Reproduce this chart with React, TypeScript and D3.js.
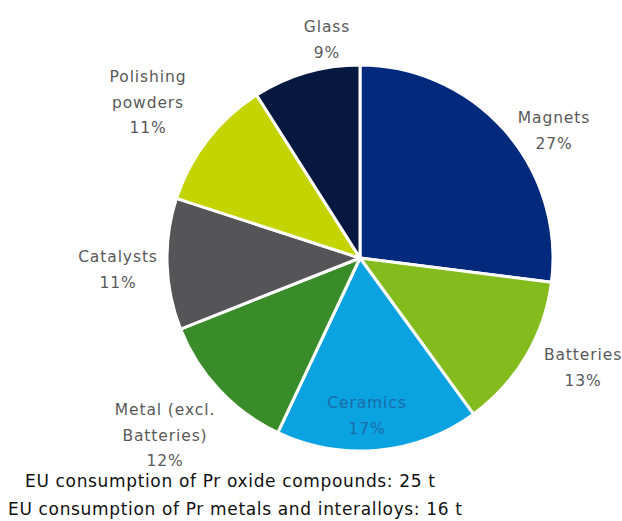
import React from "react";
import * as d3 from "d3";

const categories = ["Magnets", "Batteries", "Ceramics", "Metal (excl. Batteries)", "Catalysts", "Polishing powders", "Glass"];
const values = [27, 13, 17, 12, 11, 11, 9];
const colors = ["#022A7C", "#84BC1E", "#0AA2E0", "#3A8C2A", "#555557", "#C3D400", "#06183F"];
const labelLines = [["Magnets"], ["Batteries"], ["Ceramics"], ["Metal (excl.", "Batteries)"], ["Catalysts"], ["Polishing", "powders"], ["Glass"]];
const labelPos: [number, number][] = [[554, 123], [583, 360], [367, 408], [165, 415], [118, 262], [148, 82], [327, 32]];
const footnotes = ["EU consumption of Pr oxide compounds: 25 t", "EU consumption of Pr metals and interalloys: 16 t"];

export default function App() {
  const W = 622, H = 521;
  const cx = 360, cy = 258, r = 193;
  const pie = d3.pie<number>().sort(null).startAngle(0).endAngle(2 * Math.PI);
  const arcs = pie(values);
  const arc = d3.arc<d3.PieArcDatum<number>>().innerRadius(0).outerRadius(r);
  return (
    <svg width={W} height={H} style={{ position: "absolute", left: 0, top: 0, background: "#fff" }}>
      <g transform={`translate(${cx},${cy})`}>
        {arcs.map((a, i) => (
          <path key={i} d={arc(a) || ""} fill={colors[i]} stroke="#fff" strokeWidth={3} strokeLinejoin="round" />
        ))}
      </g>
      {labelLines.map((lines, i) => {
        const [x, y] = labelPos[i];
        const all = [...lines, `${values[i]}%`];
        return (
          <text key={i} x={x} textAnchor="middle" fontFamily="'DejaVu Sans', Verdana, sans-serif" fontSize={15.5}
            letterSpacing={0.9} fill={i === 2 ? "#1B6DA8" : "#595959"}>
            {all.map((l, j) => (
              <tspan key={j} x={x} y={y + j * 25.5}>{l}</tspan>
            ))}
          </text>
        );
      })}
      {footnotes.map((t, i) => (
        <text key={i} x={i === 0 ? 25 : 8} y={487 + i * 28} fontFamily="'DejaVu Sans', Verdana, sans-serif" fontSize={17}
          fill="#111" textLength={i === 0 ? 410 : 454} lengthAdjust="spacing">{t}</text>
      ))}
    </svg>
  );
}
